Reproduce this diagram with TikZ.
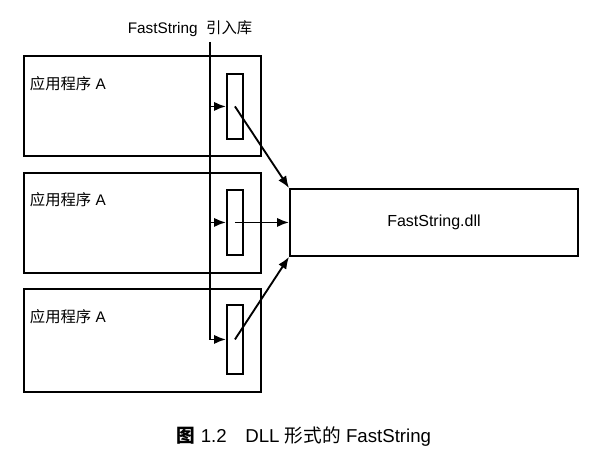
\documentclass[tikz,border=0pt]{standalone}
\usepackage{fontspec}
\setmainfont{Liberation Sans}
\newfontfamily\cjk{Noto Sans CJK SC}
\usetikzlibrary{arrows.meta, positioning}

\begin{document}
\begin{tikzpicture}[x=0.75pt, y=-0.75pt, line width=1.4pt,
  font=\fontsize{11.5}{13}\selectfont,
  appbox/.style={draw, anchor=north west, inner sep=0pt, minimum width=177.75pt, minimum height=75pt},
  stub/.style={draw, anchor=north west, inner sep=0pt, minimum width=12pt, minimum height=48.75pt},
  applabel/.style={anchor=west, inner sep=0pt},
  link/.style={-{Latex[length=9pt, width=7pt]}}]
  \useasboundingbox (0,0) rectangle (616,460);
  % import library title and its bus line
  \node (title) at (190,29) {FastString\ \ {\cjk 引入库}};
  \coordinate (bustop) at (210,42);
  % three applications
  \node[appbox] (app1) at (23,55) {};
  \node[appbox] (app2) at (23,172) {};
  \node[appbox, minimum height=77.25pt] (app3) at (23,288) {};
  \node[applabel] (lab1) at (29,84) {{\cjk 应用程序} A};
  \node[applabel] (lab2) at (29,200) {{\cjk 应用程序} A};
  \node[applabel] (lab3) at (29,317) {{\cjk 应用程序} A};
  % import stubs
  \node[stub] (stub1) at (226,73) {};
  \node[stub] (stub2) at (226,189) {};
  \node[stub, minimum height=51.75pt] (stub3) at (226,304) {};
  % the dll
  \node[draw, anchor=north west, inner sep=0pt, minimum width=216pt, minimum height=50.25pt,
    font=\fontsize{12}{14}\selectfont] (dll) at (289,188) {FastString.dll};
  % bus to stubs
  \draw[link] (bustop) |- (stub3.west);
  \draw[link] (bustop |- stub1.west) -- (stub1.west);
  \draw[link] (bustop |- stub2.west) -- (stub2.west);
  % stubs to dll
  \draw[link] (stub1.center) -- (dll.north west);
  \draw[link] (stub2.center) -- (dll.west);
  \draw[link] (stub3.center) -- (dll.south west);
  % caption
  \node[font=\fontsize{14}{16}\selectfont] (caption) at (304,437)
    {{\cjk\bfseries 图} 1.2\quad DLL {\cjk 形式的} FastString};
\end{tikzpicture}
\end{document}
